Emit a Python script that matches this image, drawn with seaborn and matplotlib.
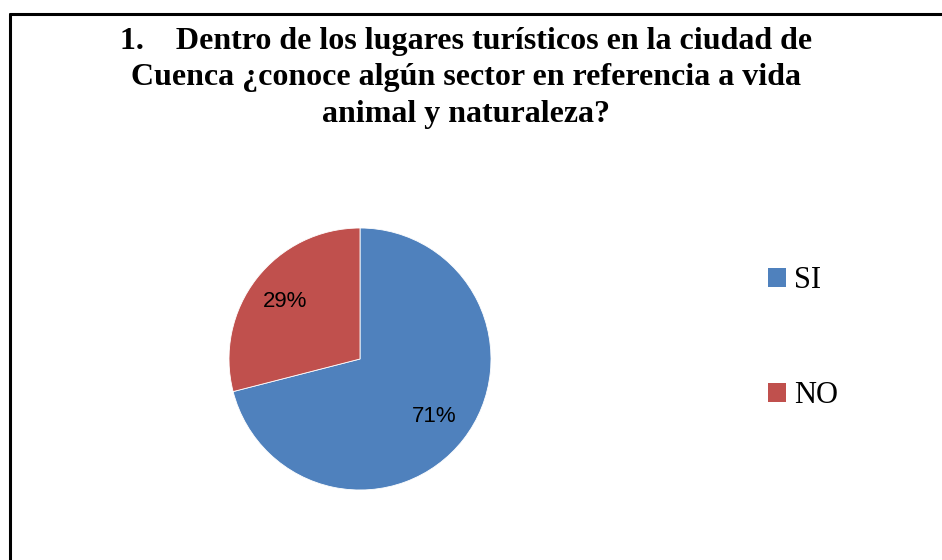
import matplotlib
matplotlib.use("Agg")
import matplotlib.pyplot as plt
from matplotlib.patches import Patch
from matplotlib.lines import Line2D
import seaborn as sns

# --- data ---
categories = ["SI", "NO"]
values = [71, 29]
colors = ["#4F81BD", "#C0504D"]
title_lines = [
    "1.    Dentro de los lugares turísticos en la ciudad de",
    "Cuenca ¿conoce algún sector en referencia a vida",
    "animal y naturaleza?",
]

sns.set_theme(style="white")
plt.rcParams["font.family"] = ["Liberation Serif", "DejaVu Serif"]
plt.rcParams["text.color"] = "black"

W, H = 942, 560
fig = plt.figure(figsize=(W / 100, H / 100), dpi=100, facecolor="white")

# pie axes: centre (360, 359) px, radius 131 px
cx, cy, r = 360, 359, 131
ax = fig.add_axes([(cx - r) / W, (H - cy - r) / H, 2 * r / W, 2 * r / H])
wedges, texts, autotexts = ax.pie(
    values, colors=colors, startangle=90, counterclock=False,
    autopct="%1.0f%%", pctdistance=0.72, radius=1,
    wedgeprops=dict(linewidth=0.6, edgecolor="white"),
    textprops=dict(fontsize=16, family=["Liberation Sans", "DejaVu Sans"], color="black"),
)
ax.set_xlim(-1, 1)
ax.set_ylim(-1, 1)
ax.axis("off")

# title
fig.text(466 / W, 1 - 27 / H, "\n".join(title_lines), ha="center", va="top",
         fontsize=23, fontweight="bold", linespacing=1.33, color="black")

# legend
handles = [Patch(facecolor=c, edgecolor="none", label=l) for c, l in zip(colors, categories)]
fig.legend(handles=handles, loc="center left", bbox_to_anchor=(753 / W, 1 - 338 / H),
           frameon=False, fontsize=22, handlelength=0.58, handleheight=0.58,
           handletextpad=0.25, labelspacing=2.82, borderpad=0, labelcolor="black")

# outer frame (left and top edges visible)
lw = 2.2
fig.add_artist(Line2D([10 / W, 10 / W], [0, 1 - 14 / H], color="black", lw=lw,
                      transform=fig.transFigure))
fig.add_artist(Line2D([10 / W, 1], [1 - 14 / H, 1 - 14 / H], color="black", lw=lw,
                      transform=fig.transFigure))

plt.savefig("out.png", dpi=100, facecolor="white")
